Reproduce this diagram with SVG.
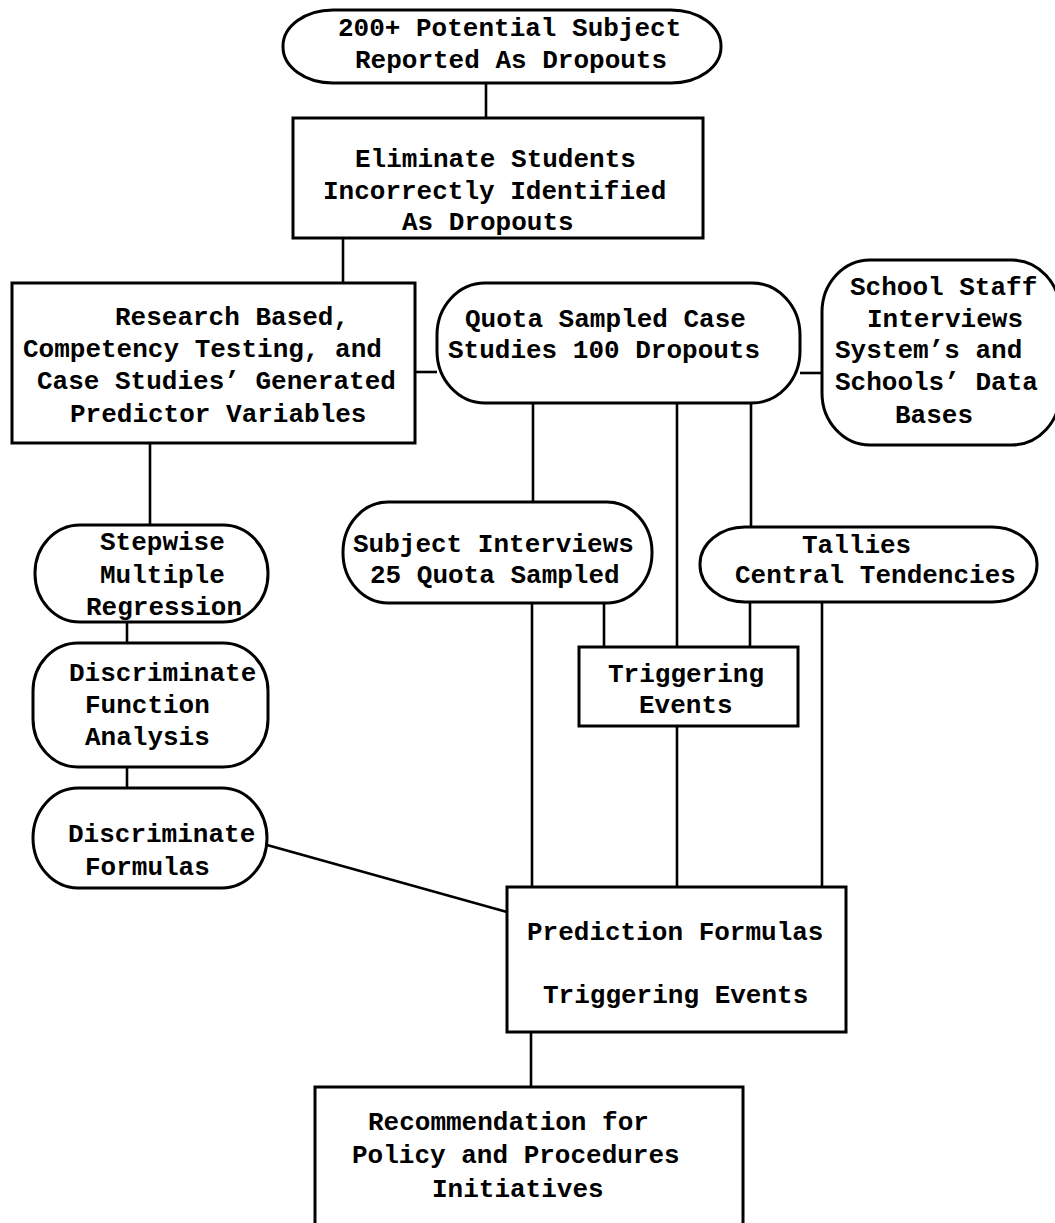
<svg xmlns="http://www.w3.org/2000/svg" width="1055" height="1223" viewBox="0 0 1055 1223">
<style>
.n{fill:#fff;stroke:#000;stroke-width:3}
.c line,.c polyline{stroke:#000;stroke-width:2.6;fill:none}
text{font-family:"Liberation Mono","Courier New",monospace;font-size:26px;font-weight:bold;fill:#000}
</style>
<rect width="1055" height="1223" fill="#fff"/>
<g class="c" id="connectors">
<line x1="486" y1="83" x2="486" y2="118"/>
<line x1="343" y1="238" x2="343" y2="283"/>
<line x1="415" y1="372" x2="437" y2="372"/>
<line x1="800" y1="373" x2="823" y2="373"/>
<line x1="150" y1="443" x2="150" y2="525"/>
<line x1="127" y1="622" x2="127" y2="643"/>
<line x1="127" y1="767" x2="127" y2="788"/>
<line x1="533" y1="403" x2="533" y2="502"/>
<line x1="677" y1="403" x2="677" y2="887"/>
<line x1="751" y1="403" x2="751" y2="527"/>
<line x1="532" y1="603" x2="532" y2="887"/>
<line x1="604" y1="603" x2="604" y2="647"/>
<line x1="750" y1="602" x2="750" y2="647"/>
<line x1="822" y1="602" x2="822" y2="887"/>
<line x1="267" y1="845" x2="507" y2="912"/>
<line x1="531" y1="1032" x2="531" y2="1087"/>
</g>
<g id="n1"><rect class="n" x="283" y="10" width="438" height="73" rx="50" ry="36"/>
<text x="338" y="36">200+ Potential Subject</text><text x="355" y="68">Reported As Dropouts</text></g>
<g id="n2"><rect class="n" x="293" y="118" width="410" height="120"/>
<text x="355" y="167">Eliminate Students</text><text x="323" y="199">Incorrectly Identified</text><text x="402" y="230">As Dropouts</text></g>
<g id="n3"><rect class="n" x="12" y="283" width="403" height="160"/>
<text x="115" y="325">Research Based,</text><text x="23" y="357">Competency Testing, and</text><text x="37" y="389">Case Studies’ Generated</text><text x="70" y="422">Predictor Variables</text></g>
<g id="n4"><rect class="n" x="437" y="283" width="363" height="120" rx="48" ry="52"/>
<text x="465" y="327">Quota Sampled Case</text><text x="448" y="358">Studies 100 Dropouts</text></g>
<g id="n5"><rect class="n" x="822" y="260" width="238" height="185" rx="48" ry="52"/>
<text x="850" y="295">School Staff</text><text x="867" y="327">Interviews</text><text x="835" y="358">System’s and</text><text x="835" y="390">Schools’ Data</text><text x="895" y="423">Bases</text></g>
<g id="n6"><rect class="n" x="35" y="525" width="233" height="97" rx="45" ry="48"/>
<text x="100" y="550">Stepwise</text><text x="100" y="583">Multiple</text><text x="86" y="615">Regression</text></g>
<g id="n7"><rect class="n" x="343" y="502" width="309" height="101" rx="45" ry="50"/>
<text x="353" y="552">Subject Interviews</text><text x="370" y="583">25 Quota Sampled</text></g>
<g id="n8"><rect class="n" x="700" y="527" width="337" height="75" rx="45" ry="37"/>
<text x="802" y="553">Tallies</text><text x="735" y="583">Central Tendencies</text></g>
<g id="n9"><rect class="n" x="579" y="647" width="219" height="79"/>
<text x="608" y="682">Triggering</text><text x="639" y="713">Events</text></g>
<g id="n10"><rect class="n" x="33" y="643" width="235" height="124" rx="45" ry="48"/>
<text x="69" y="681">Discriminate</text><text x="85" y="713">Function</text><text x="85" y="745">Analysis</text></g>
<g id="n11"><rect class="n" x="33" y="788" width="234" height="100" rx="45" ry="50"/>
<text x="68" y="842">Discriminate</text><text x="85" y="875">Formulas</text></g>
<g id="n12"><rect class="n" x="507" y="887" width="339" height="145"/>
<text x="527" y="940">Prediction Formulas</text><text x="543" y="1003">Triggering Events</text></g>
<g id="n13"><rect class="n" x="315" y="1087" width="428" height="160"/>
<text x="368" y="1130">Recommendation for</text><text x="352" y="1163">Policy and Procedures</text><text x="432" y="1197">Initiatives</text></g>
</svg>
